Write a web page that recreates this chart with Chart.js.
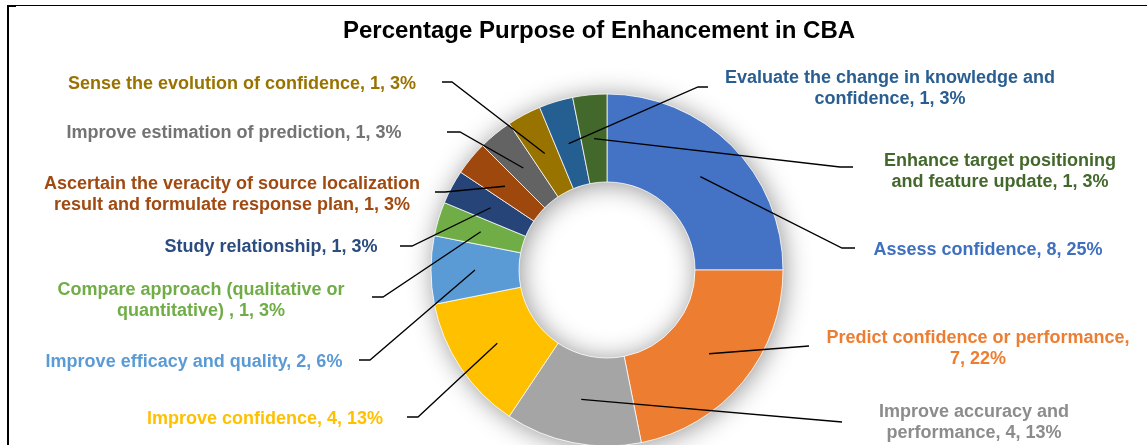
<!DOCTYPE html>
<html>
<head>
<meta charset="utf-8">
<script src="https://cdn.jsdelivr.net/npm/chart.js@4.4.0/dist/chart.umd.min.js"></script>
<style>
  html, body { margin: 0; padding: 0; background: #fff; overflow: hidden; }
  #wrap { position: relative; width: 1147px; height: 445px; overflow: hidden; }
  #frame { position: absolute; left: 7px; top: 5px; width: 1200px; height: 500px; border-top: 1px solid #000; border-left: 2px solid #000; }
  #corner { position: absolute; left: 7px; top: 5px; width: 9px; height: 2px; background: #000; }
  #chart { position: absolute; left: 0; top: 0; }
</style>
</head>
<body>
<div id="wrap">
  <div id="frame"></div>
  <div id="corner"></div>
  <canvas id="chart" width="1147" height="445"></canvas>
</div>
<script>
// Data, clockwise from 12 o'clock
const categories = [
  'Assess confidence',
  'Predict confidence or performance',
  'Improve accuracy and performance',
  'Improve confidence',
  'Improve efficacy and quality',
  'Compare approach (qualitative or quantitative) ',
  'Study relationship',
  'Ascertain the veracity of source localization result and formulate response plan',
  'Improve estimation of prediction',
  'Sense the evolution of confidence',
  'Evaluate the change in knowledge and confidence',
  'Enhance target positioning and feature update'
];
const counts = [8, 7, 4, 4, 2, 1, 1, 1, 1, 1, 1, 1];

const sliceColors = ['#4472C4', '#ED7D31', '#A5A5A5', '#FFC000', '#5B9BD5', '#70AD47',
                     '#264478', '#9E480E', '#636363', '#997300', '#255E91', '#43682B'];
const labelColors = ['#3F70BF', '#ED7D31', '#8C8C8C', '#FFC000', '#5B9BD5', '#70AD47',
                     '#2B4C7E', '#A04A12', '#737373', '#997300', '#2A5E90', '#43682B'];

// label layout: text centre x, first baseline y, words on first line (0 = one line),
// leader elbow and leader end
const labelLayout = [
  { x: 988, y: 255, wrap: 0, elbow: [842, 248], end: [855, 248] },
  { x: 978, y: 343, wrap: 4, elbow: [809, 346], end: [809, 346] },
  { x: 974, y: 417, wrap: 3, elbow: [842, 422], end: [842, 422] },
  { x: 265, y: 424, wrap: 0, elbow: [418, 417], end: [407, 417] },
  { x: 194, y: 367, wrap: 0, elbow: [370, 360], end: [359, 360] },
  { x: 201, y: 295, wrap: 4, elbow: [383, 297], end: [372, 297] },
  { x: 271, y: 252, wrap: 0, elbow: [412, 246], end: [400, 246] },
  { x: 232, y: 189, wrap: 6, elbow: [445, 192], end: [435, 192] },
  { x: 234, y: 138, wrap: 0, elbow: [460, 132], end: [447, 132] },
  { x: 242, y: 89,  wrap: 0, elbow: [452, 82],  end: [442, 82] },
  { x: 890, y: 83,  wrap: 6, elbow: [698, 87],  end: [708, 87] },
  { x: 1000, y: 166, wrap: 3, elbow: [840, 167], end: [853, 167] }
];

const total = counts.reduce((a, b) => a + b, 0);

function labelLines(i) {
  const pct = Math.round(counts[i] / total * 100);
  const words = (categories[i] + ', ' + counts[i] + ', ' + pct + '%').split(' ');
  const n = labelLayout[i].wrap;
  if (!n) return [words.join(' ')];
  return [words.slice(0, n).join(' '), words.slice(n).join(' ')];
}

// soft shadow under the ring, also falls into the hole
const ringShadow = {
  id: 'ringShadow',
  beforeDatasetsDraw(chart) {
    const arc = chart.getDatasetMeta(0).data[0];
    if (!arc) return;
    const { x, y, innerRadius, outerRadius } = arc.getProps(['x', 'y', 'innerRadius', 'outerRadius'], true);
    const ctx = chart.ctx;
    ctx.save();
    ctx.shadowColor = 'rgba(0,0,0,0.42)';
    ctx.shadowBlur = 26;
    ctx.shadowOffsetX = 2;
    ctx.shadowOffsetY = 2;
    ctx.fillStyle = '#fff';
    ctx.beginPath();
    ctx.arc(x, y, outerRadius, 0, Math.PI * 2);
    ctx.arc(x, y, innerRadius, 0, Math.PI * 2, true);
    ctx.fill();
    ctx.restore();
  }
};

const outsideLabels = {
  id: 'outsideLabels',
  afterDatasetsDraw(chart) {
    const ctx = chart.ctx;
    const arcs = chart.getDatasetMeta(0).data;
    ctx.save();

    // title
    ctx.fillStyle = '#000';
    ctx.font = 'bold 24px "Liberation Sans", Arial, sans-serif';
    ctx.textAlign = 'center';
    ctx.textBaseline = 'alphabetic';
    ctx.fillText('Percentage Purpose of Enhancement in CBA', 599, 38);

    // leader lines
    ctx.strokeStyle = '#000';
    ctx.lineWidth = 1.3;
    arcs.forEach((arc, i) => {
      const p = arc.getCenterPoint(true);
      const l = labelLayout[i];
      ctx.beginPath();
      ctx.moveTo(p.x, p.y);
      ctx.lineTo(l.elbow[0], l.elbow[1]);
      ctx.lineTo(l.end[0], l.end[1]);
      ctx.stroke();
    });

    // label text
    ctx.font = 'bold 18px "Liberation Sans", Arial, sans-serif';
    arcs.forEach((arc, i) => {
      const l = labelLayout[i];
      ctx.fillStyle = labelColors[i];
      labelLines(i).forEach((line, k) => {
        ctx.fillText(line, l.x, l.y + k * 21);
      });
    });
    ctx.restore();
  }
};

new Chart(document.getElementById('chart').getContext('2d'), {
  type: 'doughnut',
  data: {
    labels: categories,
    datasets: [{
      data: counts,
      backgroundColor: sliceColors,
      borderColor: '#fff',
      borderWidth: 0.75
    }]
  },
  options: {
    responsive: false,
    animation: false,
    devicePixelRatio: 1,
    radius: 176,
    cutout: '50%',
    layout: { padding: { top: 95, left: 67, right: 0, bottom: 0 } },
    plugins: {
      legend: { display: false },
      tooltip: { enabled: false },
      title: { display: false }
    }
  },
  plugins: [ringShadow, outsideLabels]
});
</script>
</body>
</html>
